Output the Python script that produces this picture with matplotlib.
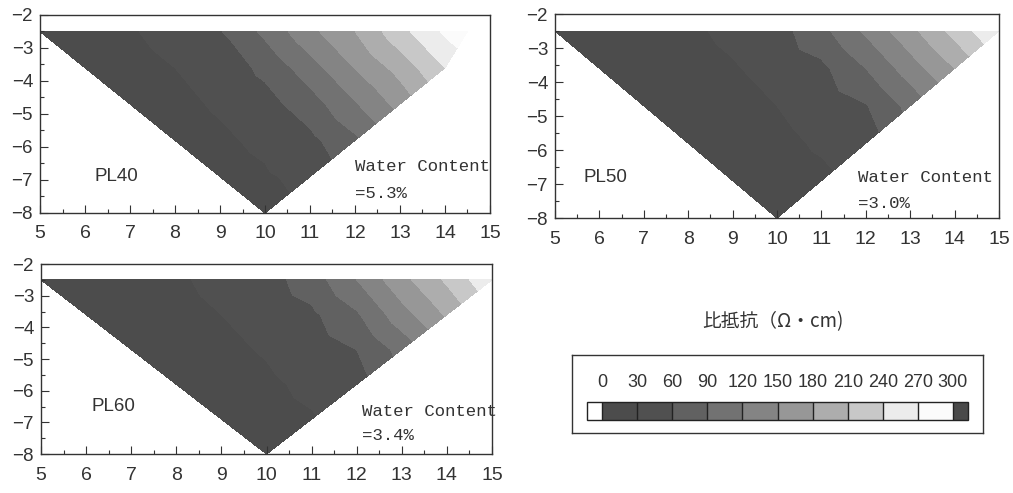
import numpy as np
import matplotlib.pyplot as plt
import matplotlib.tri as mtri
from matplotlib.colors import ListedColormap, BoundaryNorm

plt.rcParams['font.family'] = ['Liberation Sans', 'Noto Sans CJK JP', 'DejaVu Sans']

# pseudo-section rows: depth of each row and the x positions of its points
row_y = [-2.5, -3.6, -4.7, -5.8, -6.9, -8.0]

pl40_x = [[5, 6, 7, 8, 9, 10, 11, 12, 13, 14, 14.5],
          [6, 7, 8, 9, 10, 11, 12, 13, 14],
          [7, 8, 9, 10, 11, 12, 13],
          [8, 9, 10, 11, 12],
          [9, 10, 11],
          [10]]
pl40_rho = [[15, 20, 28, 38, 58, 97, 142, 180, 230, 275, 295],
            [16, 22, 30, 43, 67, 107, 151, 191, 240],
            [17, 24, 33, 49, 76, 117, 160],
            [18, 26, 35, 52, 84],
            [20, 27, 37],
            [21]]

pl50_x = [[5, 6, 7, 8, 9, 10, 11, 12, 13, 14, 15],
          [6, 7, 8, 9, 10, 11, 12, 13, 14],
          [7, 8, 9, 10, 11, 12, 13],
          [8, 9, 10, 11, 12],
          [9, 10, 11],
          [10]]
pl50_rho = [[12, 16, 20, 26, 35, 48, 81, 125, 171, 220, 270],
            [13, 17, 21, 28, 38, 53, 90, 135, 180],
            [14, 18, 22, 30, 40, 58, 99],
            [15, 19, 24, 33, 43],
            [15, 19, 25],
            [16]]

pl60_x = pl50_x
pl60_rho = [[12, 16, 21, 27, 36, 48, 75, 120, 171, 215, 265],
            [13, 17, 23, 30, 40, 54, 86, 138, 184],
            [14, 19, 25, 32, 43, 60, 100],
            [16, 21, 26, 35, 47],
            [17, 22, 28],
            [19]]

names = ['PL40', 'PL50', 'PL60']
water = ['=5.3%', '=3.0%', '=3.4%']

levels = [0, 30, 60, 90, 120, 150, 180, 210, 240, 270, 300]
colors = ['#4c4c4c', '#505050', '#616161', '#727272', '#848484',
          '#979797', '#adadad', '#c8c8c8', '#ececec', '#fbfbfb']
cmap = ListedColormap(colors)
cmap.set_under('white')
cmap.set_over('#4a4a4a')
norm = BoundaryNorm(levels, cmap.N)

fig = plt.figure(figsize=(10.13, 4.93), dpi=100)
ax1 = fig.add_axes([0.0395, 0.568, 0.4442, 0.4016])
ax2 = fig.add_axes([0.5479, 0.5578, 0.4383, 0.4138])
ax3 = fig.add_axes([0.0405, 0.0791, 0.4452, 0.3854])

panels = [(ax1, pl40_x, pl40_rho, (6.2, -6.9), (12.0, -6.6, -7.4)),
          (ax2, pl50_x, pl50_rho, (5.65, -6.82), (11.82, -6.82, -7.56)),
          (ax3, pl60_x, pl60_rho, (6.13, -6.51), (12.12, -6.67, -7.4))]

ink = '#333333'
for k, (ax, xs, rho, name_pos, wc_pos) in enumerate(panels):
    px, py, pv = [], [], []
    for y, xr, vr in zip(row_y, xs, rho):
        px += xr
        py += [y] * len(xr)
        pv += vr
    tri = mtri.Triangulation(px, py)
    cs = ax.tricontourf(tri, pv, levels=levels, cmap=cmap, norm=norm, extend='both')

    ax.set_xlim(5, 15)
    ax.set_ylim(-8, -2)
    ax.set_xticks(range(5, 16))
    ax.set_yticks(range(-8, -1))
    ax.set_xticks(np.arange(5.5, 15, 1), minor=True)
    ax.set_yticks(np.arange(-7.5, -2, 1), minor=True)
    ax.tick_params(axis='both', which='both', direction='in', colors=ink,
                   labelcolor=ink)
    ax.tick_params(axis='both', which='major', length=6, width=0.8)
    ax.tick_params(axis='both', which='minor', length=3, width=0.8)
    ax.tick_params(axis='x', which='major', pad=9, labelsize=14)
    ax.tick_params(axis='y', which='major', pad=5, labelsize=13.5)
    for sp in ax.spines.values():
        sp.set_color(ink)
        sp.set_linewidth(1.0)

    ax.text(name_pos[0], name_pos[1], names[k], fontsize=13.5, color=ink,
            ha='left', va='center')
    ax.text(wc_pos[0], wc_pos[1], 'Water Content', fontsize=12.5,
            family='Liberation Mono', color=ink, ha='left', va='center')
    ax.text(wc_pos[0], wc_pos[2], water[k], fontsize=12.5,
            family='Liberation Mono', color=ink, ha='left', va='center')

# legend for resistivity classes
frame = fig.add_axes([0.5647, 0.1217, 0.4057, 0.1582])
frame.set_xticks([])
frame.set_yticks([])
for sp in frame.spines.values():
    sp.set_color(ink)
    sp.set_linewidth(1.0)

cax = fig.add_axes([0.5795, 0.148, 0.3761, 0.0365])
cb = fig.colorbar(cs, cax=cax, orientation='horizontal', extend='both',
                  extendrect=True, extendfrac=0.043, drawedges=True)
cb.set_ticks(levels)
cb.ax.xaxis.set_ticks_position('top')
cb.ax.tick_params(length=0, labelsize=13, labelcolor=ink, pad=8)
cb.outline.set_linewidth(1.0)
cb.outline.set_edgecolor('#222222')
cb.dividers.set_color('#222222')
cb.dividers.set_linewidth(1.0)

fig.text(0.763, 0.347, '比抵抗（Ω・cm)', fontsize=13.5, color=ink,
         family=['Noto Sans CJK JP', 'DejaVu Sans'], ha='center', va='center')

fig.savefig('out.png', dpi=100)
